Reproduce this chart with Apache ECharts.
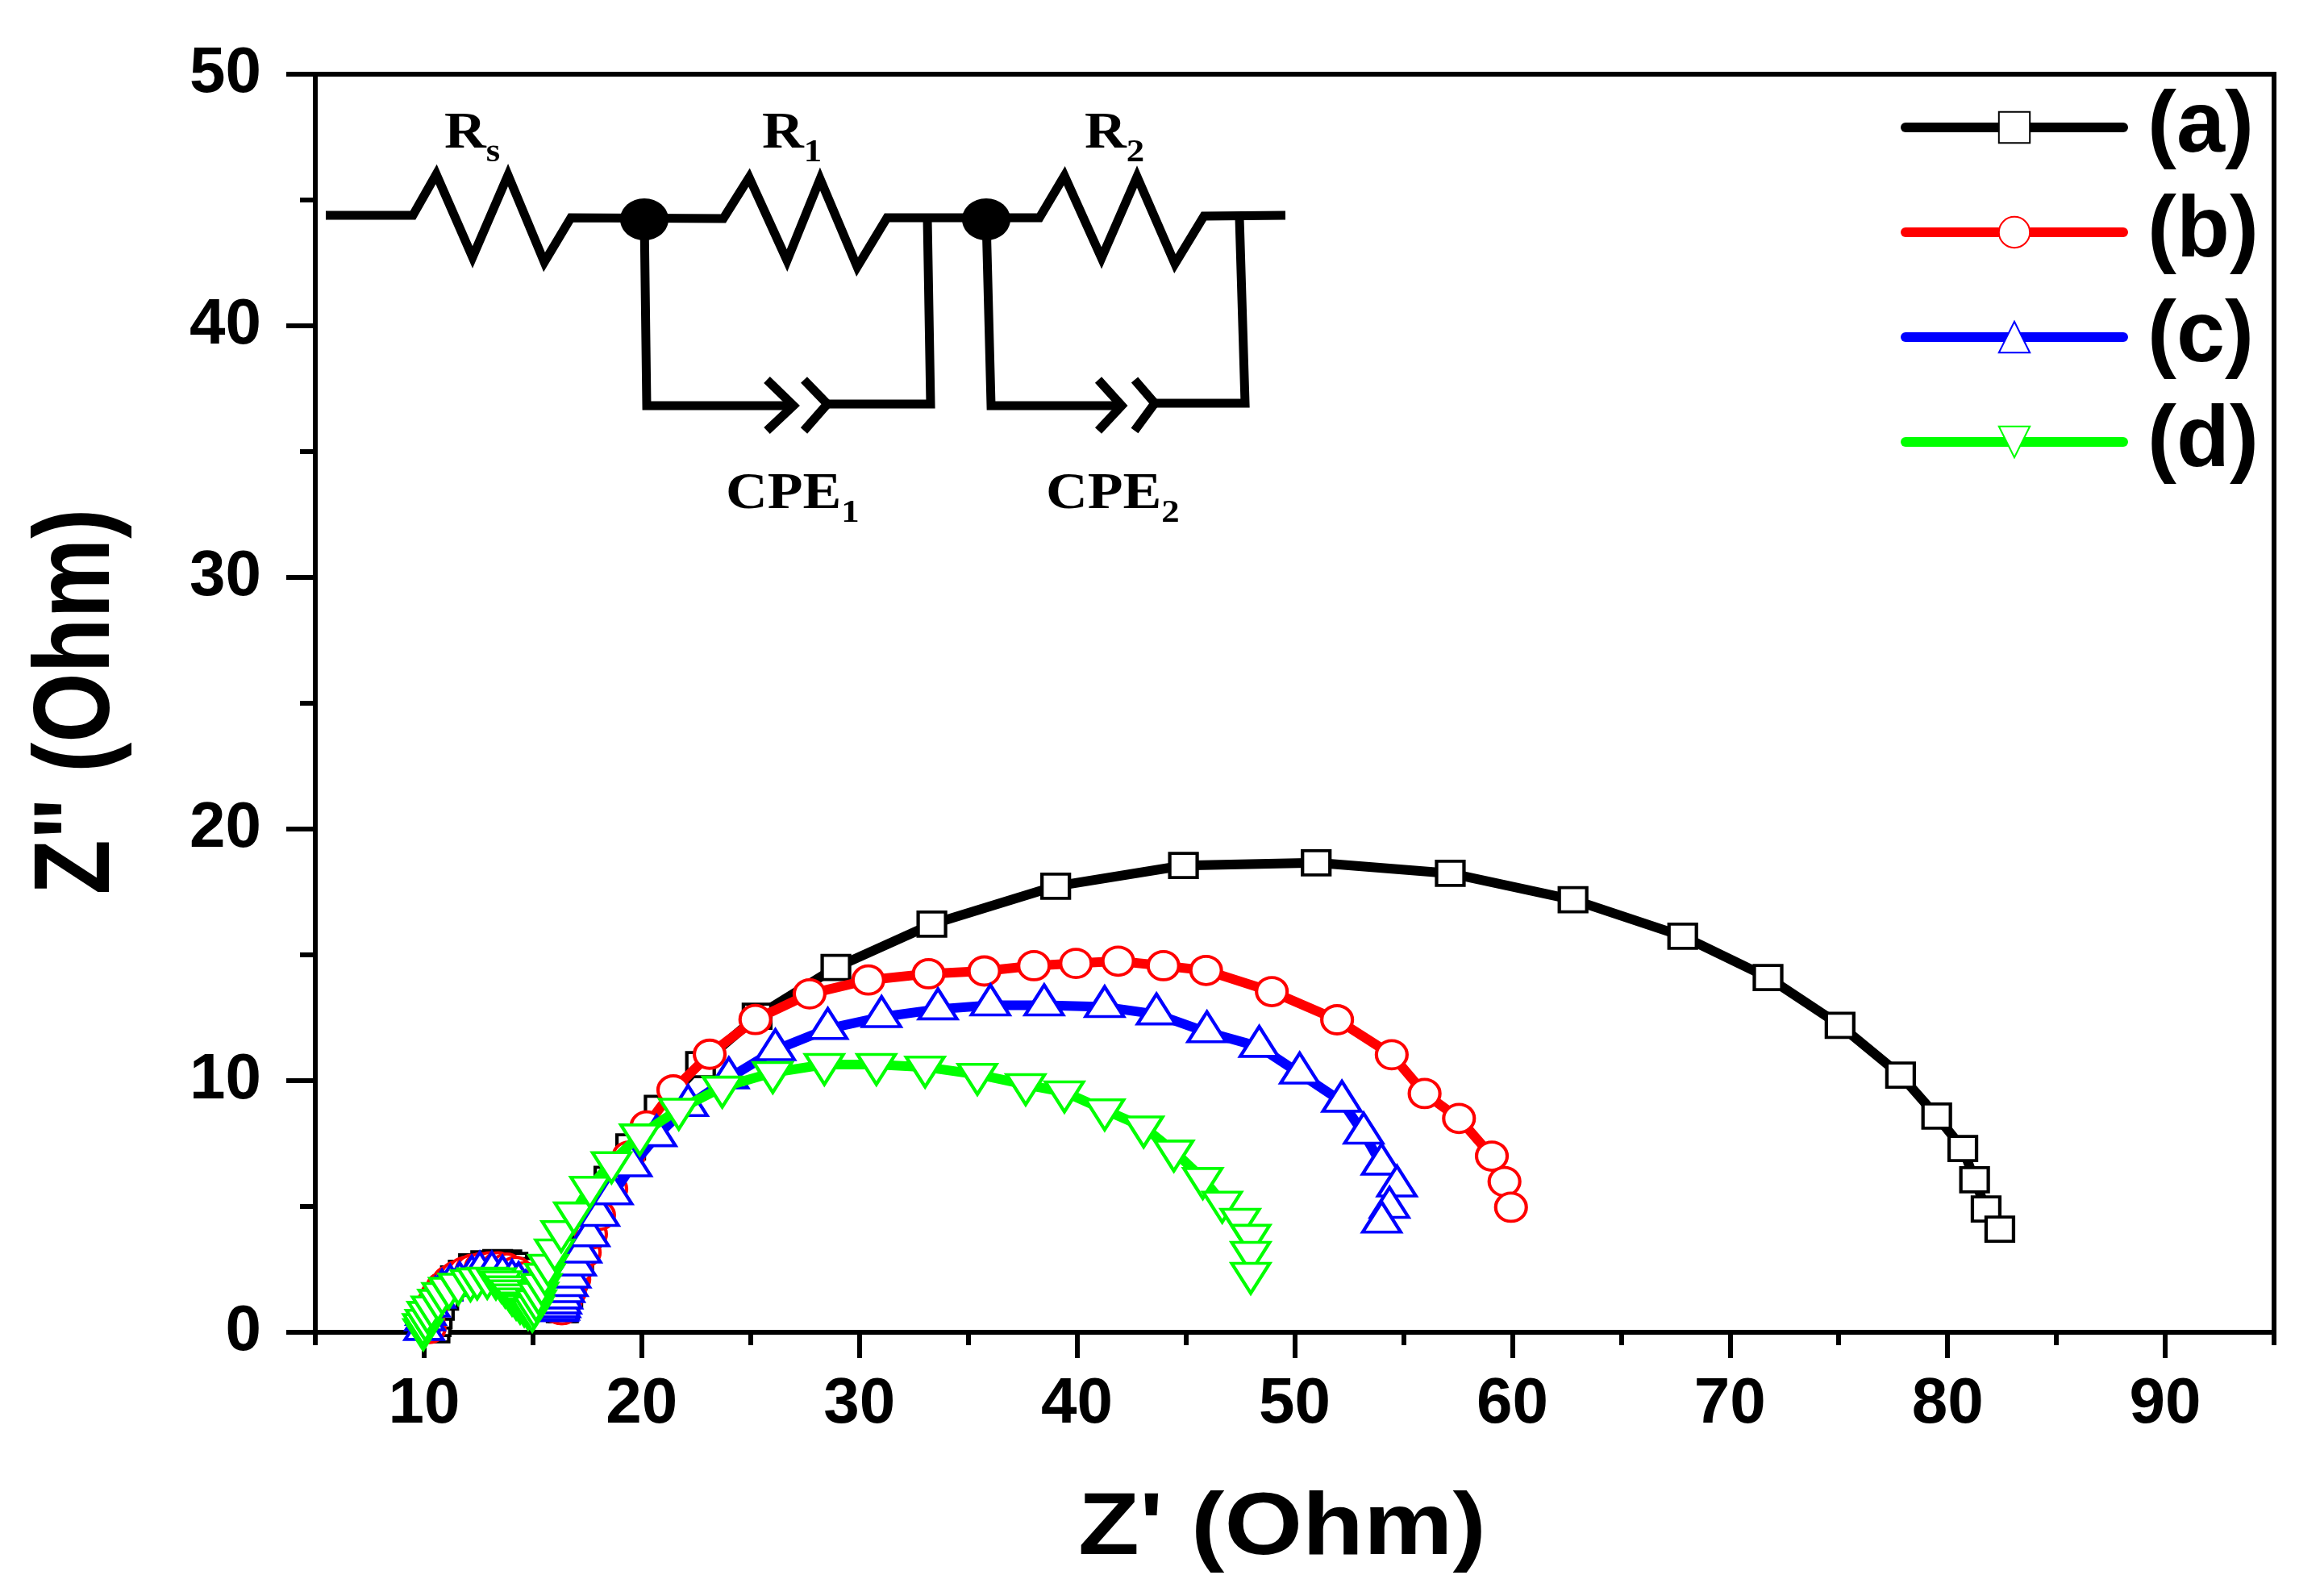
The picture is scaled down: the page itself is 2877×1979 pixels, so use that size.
<!DOCTYPE html>
<html>
<head>
<meta charset="utf-8">
<style>html,body{margin:0;padding:0;background:#fff}#c{width:2877px;height:1979px}</style>
<script src="https://cdn.jsdelivr.net/npm/echarts@6/dist/echarts.min.js"></script>
</head>
<body>
<div id="c"></div>
<script>
const xMajorTicks = [10,20,30,40,50,60,70,80,90];
const xMinorTicks = [5,15,25,35,45,55,65,75,85,95];
const seriesNames = ['(a)','(b)','(c)','(d)'];
const dataA = [[10.5,.1],[10.55,.35],[10.6,.65],[10.7,1.0],[10.9,1.4],[11.1,1.76],[11.44,2.12],[11.8,2.34],[12.27,2.6],[12.83,2.72],[13.38,2.77],[13.8,2.75],[14.08,2.66],[14.4,2.45],[14.8,2.15],[15.2,1.8],[15.6,1.4],[16.0,1.05],[16.3,.9],[16.4,.9],[16.45,1.05],[16.6,1.5],[16.8,2.2],[17.1,3.0],[17.45,3.9],[17.9,4.9],[18.49,6.08],[19.49,7.37],[20.8,8.9],[22.7,10.64],[25.3,12.56],[28.92,14.5],[33.33,16.22],[39.02,17.73],[44.89,18.55],[50.99,18.66],[57.15,18.24],[62.79,17.19],[67.83,15.74],[71.75,14.1],[75.06,12.2],[77.84,10.22],[79.5,8.59],[80.7,7.3],[81.24,6.06],[81.77,4.9],[82.4,4.1]];
const dataB = [[10.25,.15],[10.2,.45],[10.25,.8],[10.4,1.15],[10.6,1.5],[10.85,1.8],[11.15,2.05],[11.5,2.25],[11.85,2.4],[12.2,2.5],[12.6,2.57],[13.0,2.6],[13.4,2.6],[13.8,2.55],[14.2,2.42],[14.6,2.2],[15.0,1.9],[15.4,1.5],[15.8,1.15],[16.1,.95],[16.3,.9],[16.35,.9],[16.5,1.2],[16.7,1.6],[16.9,2.1],[17.0,2.5],[17.38,3.17],[17.67,3.9],[18.04,4.65],[18.6,5.7],[19.4,7.0],[20.22,8.2],[21.45,9.63],[23.12,11.05],[25.22,12.43],[27.71,13.45],[30.41,14.0],[33.18,14.25],[35.74,14.36],[38.02,14.57],[39.95,14.66],[41.89,14.75],[43.97,14.57],[45.93,14.38],[48.95,13.54],[51.95,12.42],[54.46,11.03],[55.97,9.49],[57.55,8.5],[59.06,7.0],[59.64,5.99],[59.94,4.97]];
const dataC = [[10.0,.1],[10.04,.48],[10.08,.7],[10.26,1.03],[10.52,1.38],[10.82,1.66],[11.2,1.85],[11.63,1.96],[12.19,2.21],[12.56,2.37],[13.11,2.37],[13.6,2.21],[14.04,2.05],[14.34,1.96],[14.67,1.63],[15.0,1.35],[15.3,1.15],[15.55,1.0],[15.8,.9],[16.0,.85],[16.15,.85],[16.2,.9],[16.25,1.0],[16.3,1.15],[16.35,1.35],[16.45,1.6],[16.6,1.84],[16.73,2.18],[16.98,2.66],[17.23,3.17],[17.6,3.82],[18.05,4.63],[18.67,5.49],[19.54,6.6],[20.68,7.8],[22.13,9.0],[24.0,10.1],[26.14,11.22],[28.55,12.06],[31.02,12.53],[33.61,12.84],[36.02,13.0],[38.49,13.0],[41.27,12.93],[43.65,12.64],[45.97,11.93],[48.37,11.35],[50.23,10.29],[52.17,9.17],[53.17,7.9],[53.99,6.67],[54.7,5.8],[54.36,4.95],[54.0,4.37]];
const dataD = [[9.96,.1],[9.94,.3],[10.06,.47],[10.15,.79],[10.34,1.0],[10.64,1.27],[10.83,1.54],[11.14,1.75],[11.57,1.91],[12.13,2.05],[12.44,2.12],[12.9,2.15],[13.3,2.12],[13.55,2.0],[13.73,1.8],[13.92,1.64],[14.04,1.48],[14.23,1.32],[14.41,1.16],[14.6,1.05],[14.78,.92],[14.97,.84],[15.05,1.0],[15.15,1.25],[15.25,1.55],[15.4,1.9],[15.55,2.3],[15.7,2.66],[16.0,3.27],[16.3,4.0],[16.88,4.74],[17.62,5.76],[18.61,6.74],[19.91,7.84],[21.7,8.86],[23.7,9.74],[26.02,10.32],[28.39,10.64],[30.78,10.64],[33.02,10.54],[35.42,10.25],[37.64,9.84],[39.42,9.55],[41.27,8.84],[43.06,8.16],[44.45,7.2],[45.78,6.11],[46.67,5.17],[47.5,4.49],[47.98,3.85],[47.98,3.17],[47.98,2.34]];

const xTitle = "Z' (Ohm)";
const yTitle = 'Z" (Ohm)';
const FONT = '"Liberation Sans", Arial, sans-serif';
const SERIF = '"Liberation Serif", "Times New Roman", serif';

// equivalent-circuit inset (drawn in page pixels, it is not data)
const wires = [
  [[404,267],[512,267],[541,216],[586,319],[630,217],[675,325],[708,270],[897,271],[929,220],[976,323],[1017,222],[1063,331],[1100,270],[1289,270],[1320,218],[1366,320],[1410,219],[1457,327],[1493,268],[1594,267]],
  [[799,272],[802,503],[984,503]],
  [[951,471],[984,503],[951,534]],
  [[997,471],[1026,501],[997,534]],
  [[1026,501],[1154,501],[1150,271]],
  [[1223,272],[1229,503],[1391,503]],
  [[1362,471],[1391,503],[1362,534]],
  [[1407,471],[1432,500],[1407,534]],
  [[1432,500],[1544,500],[1537,270]]
];
const nodes = [[799,272],[1223,272]];
const circuitLabels = [
  ['R','s',551,134],['R','1',945,134],['R','2',1345,134],
  ['CPE','1',900,581],['CPE','2',1297,581]
];

const graphics = [];
wires.forEach(p => graphics.push({type:'polyline',silent:true,z:50,shape:{points:p},
  style:{fill:null,stroke:'#000',lineWidth:11,lineJoin:'miter'}}));
nodes.forEach(n => graphics.push({type:'ellipse',silent:true,z:51,shape:{cx:n[0],cy:n[1],rx:30,ry:26},style:{fill:'#000'}}));
circuitLabels.forEach(l => graphics.push({type:'text',silent:true,z:52,x:l[2],y:l[3],scaleX:1.12,
  style:{text:'{b|'+l[0]+'}{s|'+l[1]+'}',align:'left',verticalAlign:'top',fill:'#000',
    rich:{b:{fontFamily:SERIF,fontWeight:'bold',fontSize:64,lineHeight:76,verticalAlign:'top',fill:'#000'},
          s:{fontFamily:SERIF,fontWeight:'bold',fontSize:40,lineHeight:42,verticalAlign:'bottom',fill:'#000'}}}}));
graphics.push({type:'text',silent:true,z:52,x:1590,y:1897,scaleX:1.14,
  style:{text:xTitle,align:'center',verticalAlign:'middle',fontFamily:FONT,fontWeight:'bold',fontSize:109,fill:'#000'}});
graphics.push({type:'text',silent:true,z:52,x:98,y:870,rotation:Math.PI/2,scaleX:1.01,scaleY:1.206,
  style:{text:yTitle,align:'center',verticalAlign:'middle',fontFamily:FONT,fontWeight:'bold',fontSize:110,fill:'#000'}});

// Like the source plot, no connecting line is drawn between markers that nearly touch.
const PX_X = 27, PX_Y = 31.2, MIN_SEG = 35;
function gapDense(points){
  const out = [];
  points.forEach((p,i)=>{
    if(i>0){
      const q = points[i-1];
      if(Math.hypot((p[0]-q[0])*PX_X,(p[1]-q[1])*PX_Y) < MIN_SEG) out.push(['-','-']);
    }
    out.push(p);
  });
  return out;
}

function mk(name,data,color,symbol,size,rot,off,z){
  return {name,type:'line',data:gapDense(data),z,clip:false,showSymbol:true,showAllSymbol:true,connectNulls:false,
    symbol,symbolSize:size,symbolRotate:rot,symbolOffset:off,
    lineStyle:{color,width:12,cap:'round',join:'round'},
    itemStyle:{color:'#fff',borderColor:color,borderWidth:4,opacity:1},
    emphasis:{disabled:true}};
}

const chart = echarts.init(document.getElementById('c'),null,{renderer:'canvas',width:2877,height:1979});
chart.setOption({
  animation:false,backgroundColor:'#fff',
  grid:{left:391,right:57,top:92,bottom:327,show:true,borderColor:'#000',borderWidth:6,backgroundColor:'transparent'},
  legend:{show:true,orient:'vertical',left:2357,top:104,padding:0,itemWidth:270,itemHeight:48,itemGap:22,
    selectedMode:false,
    lineStyle:{width:12},
    textStyle:{fontFamily:FONT,fontWeight:'bold',fontSize:108,color:'#000',padding:[35,0,0,25]},
    data:seriesNames},
  xAxis:[{type:'value',min:5,max:95,interval:10,splitLine:{show:false},
    axisLine:{show:true,onZero:false,lineStyle:{color:'#000',width:6}},
    axisTick:{show:true,length:32,customValues:xMajorTicks,lineStyle:{color:'#000',width:6}},
    axisLabel:{show:true,margin:50,customValues:xMajorTicks,fontFamily:FONT,fontWeight:'bold',fontSize:80,color:'#000'}},
   {type:'value',min:5,max:95,interval:10,position:'bottom',splitLine:{show:false},
    axisLine:{show:false},
    axisTick:{show:true,length:16,customValues:xMinorTicks,lineStyle:{color:'#000',width:6}},
    axisLabel:{show:false}}],
  yAxis:{type:'value',min:0,max:50,interval:10,splitLine:{show:false},
    axisLine:{show:true,lineStyle:{color:'#000',width:6}},
    axisTick:{show:true,length:36,lineStyle:{color:'#000',width:6}},
    minorTick:{show:true,splitNumber:2,length:19,lineStyle:{color:'#000',width:6}},
    minorSplitLine:{show:false},
    axisLabel:{show:true,margin:67,fontFamily:FONT,fontWeight:'bold',fontSize:80,color:'#000'}},
  series:[
    mk(seriesNames[0],dataA,'#000000','rect',[34,30],0,[0,0],2),
    mk(seriesNames[1],dataB,'#ff0000','circle',[38,35],0,[0,0],3),
    mk(seriesNames[2],dataC,'#0000ff','triangle',[47,37],0,[0,-6.5],4),
    mk(seriesNames[3],dataD,'#00ff00','triangle',[47,37],180,[0,6],5)
  ],
  graphic:graphics
});
</script>
</body>
</html>
